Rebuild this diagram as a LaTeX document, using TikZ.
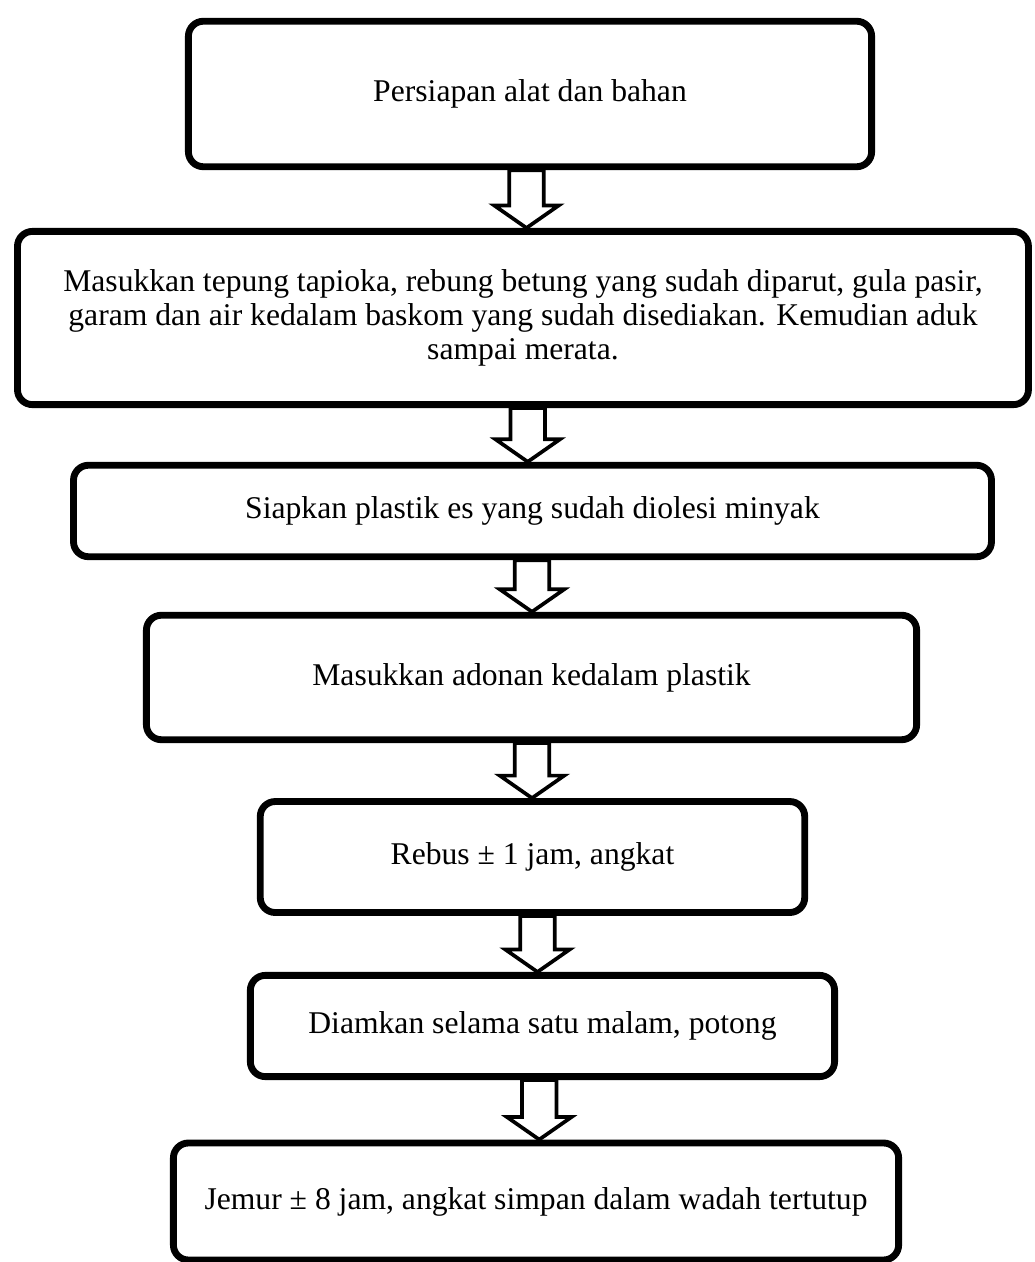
\documentclass[tikz,border=0pt]{standalone}
\usepackage{fontspec}
\setmainfont{Liberation Serif}
\usetikzlibrary{calc,shadows}

\newcommand{\stepflow}[2]{%
  \draw[flowarrow] let \p1=($(#1.south)!0.5!(#2.north)$), \p2=(#1.south), \p3=(#2.north) in
    (\x1-0.23cm,\y2) -- (\x1-0.23cm,\y3+0.3cm) -- (\x1-0.43cm,\y3+0.3cm) -- (\x1,\y3)
    -- (\x1+0.43cm,\y3+0.3cm) -- (\x1+0.23cm,\y3+0.3cm) -- (\x1+0.23cm,\y2) -- cycle;}

\begin{document}
\begin{tikzpicture}[
  stepbox/.style={rectangle, rounded corners=0.2cm, draw, line width=2.6pt, fill=white,
    align=center, drop shadow={shadow xshift=0.6pt, shadow yshift=-0.8pt, opacity=0.25}},
  flowarrow/.style={draw, fill=white, line width=1.4pt, line join=miter},
  font=\fontsize{12}{13}\selectfont
]
\useasboundingbox (0,0) rectangle (13.8,-16.827);
\node[stepbox, minimum width=9.11cm, minimum height=1.94cm] (prep) at (7.067,-1.253) {Persiapan alat dan bahan};
\node[stepbox, below of=prep, node distance=2.987cm, xshift=-0.094cm, minimum width=13.48cm, minimum height=2.31cm] (mix)
  {Masukkan tepung tapioka, rebung betung yang sudah diparut, gula pasir,\\garam dan air kedalam baskom yang sudah disediakan. Kemudian aduk\\sampai merata.};
\node[stepbox, below of=mix, node distance=2.573cm, xshift=0.127cm, minimum width=12.24cm, minimum height=1.22cm] (plastic) {Siapkan plastik es yang sudah diolesi minyak};
\node[stepbox, below of=plastic, node distance=2.22cm, xshift=-0.013cm, minimum width=10.27cm, minimum height=1.66cm] (fill) {Masukkan adonan kedalam plastik};
\node[stepbox, below of=fill, node distance=2.394cm, xshift=0.013cm, minimum width=7.26cm, minimum height=1.48cm] (boil) {Rebus ± 1 jam, angkat};
\node[stepbox, below of=boil, node distance=2.253cm, xshift=0.133cm, minimum width=7.79cm, minimum height=1.35cm] (rest) {Diamkan selama satu malam, potong};
\node[stepbox, below of=rest, node distance=2.34cm, xshift=-0.086cm, minimum width=9.67cm, minimum height=1.56cm] (dry) {Jemur ± 8 jam, angkat simpan dalam wadah tertutup};

\stepflow{prep}{mix}
\stepflow{mix}{plastic}
\stepflow{plastic}{fill}
\stepflow{fill}{boil}
\stepflow{boil}{rest}
\stepflow{rest}{dry}
\end{tikzpicture}
\end{document}
